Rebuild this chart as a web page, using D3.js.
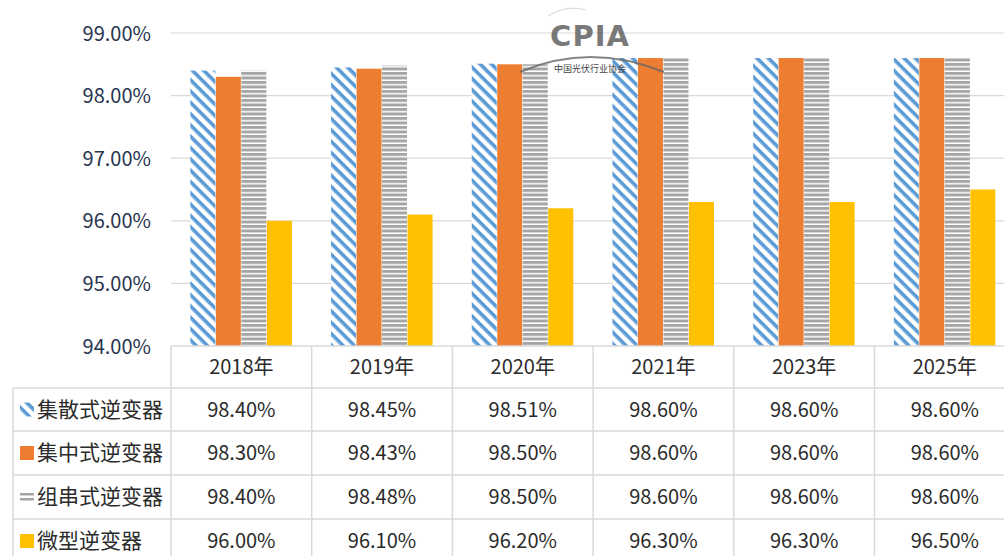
<!DOCTYPE html>
<html><head><meta charset="utf-8">
<script src="https://cdn.jsdelivr.net/npm/d3@7/dist/d3.min.js"></script>
<style>body{margin:0;background:#fff;}svg{display:block;}</style>
</head><body>
<script>
const categories = ["2018年","2019年","2020年","2021年","2023年","2025年"];
const seriesNames = ["集散式逆变器","集中式逆变器","组串式逆变器","微型逆变器"];
const s1 = [98.40,98.45,98.51,98.60,98.60,98.60];
const s2 = [98.30,98.43,98.50,98.60,98.60,98.60];
const s3 = [98.40,98.48,98.50,98.60,98.60,98.60];
const s4 = [96.00,96.10,96.20,96.30,96.30,96.50];
const yTicks = [94,95,96,97,98,99];

const series = [s1,s2,s3,s4];
const W=1004,H=556;
const svg=d3.select("body").append("svg").attr("width",W).attr("height",H);
const font="'Noto Sans CJK SC','Noto Sans',sans-serif";
const textColor="#2b2b2b";
const fs=20;
const defs=svg.append("defs");
// blue diagonal hatch ("\" direction)
const p1=defs.append("pattern").attr("id","hatchBlue").attr("patternUnits","userSpaceOnUse")
  .attr("width",8).attr("height",8).attr("patternTransform","rotate(45)");
p1.append("rect").attr("width",8).attr("height",8).attr("fill","#fff");
p1.append("rect").attr("x",0).attr("y",0).attr("width",8).attr("height",3.6).attr("fill","#5B9BD5");
// gray horizontal stripes
const p3=defs.append("pattern").attr("id","hatchGray").attr("patternUnits","userSpaceOnUse")
  .attr("width",4.5).attr("height",4.5);
p3.append("rect").attr("width",4.5).attr("height",4.5).attr("fill","#fff");
p3.append("rect").attr("y",0).attr("width",4.5).attr("height",3).attr("fill","#a5a5a5");
const fills=["url(#hatchBlue)","#ED7D31","url(#hatchGray)","#FFC000"];

const x0=171, colW=140.7;
const x=d3.scaleBand().domain(categories).range([x0,x0+colW*6]).paddingInner(0).paddingOuter(0);
const y=d3.scaleLinear().domain([94,99]).range([346,33]);
const xs=d3.scaleBand().domain(d3.range(4)).range([0,102]);
const gOff=(colW-102)/2;

// gridlines
svg.append("g").selectAll("line").data(yTicks.slice(1)).join("line")
  .attr("x1",x0).attr("x2",W).attr("y1",d=>y(d)).attr("y2",d=>y(d))
  .attr("stroke","#d9d9d9").attr("stroke-width",1.2);

// y labels
const yAxis=d3.axisLeft(y).tickValues(yTicks).tickSize(0).tickPadding(0).tickFormat(d=>d.toFixed(2)+"%");
const ya=svg.append("g").attr("transform","translate(151,0)").call(yAxis);
ya.select(".domain").remove();
ya.selectAll("text").attr("font-family",font).attr("font-size",fs).attr("fill","#283450").attr("dy","0.35em");

// bars
const bars=svg.append("g");
series.forEach((s,si)=>{
  bars.append("g").selectAll("rect").data(s).join("rect")
    .attr("x",(d,i)=>x(categories[i])+gOff+xs(si))
    .attr("width",xs.bandwidth()-0.5)
    .attr("y",d=>y(d)).attr("height",d=>y(94)-y(d))
    .attr("fill",fills[si]);
});

// watermark
const wm=svg.append("g");
wm.append("text").attr("x",590).attr("y",46).attr("text-anchor","middle").attr("font-family","'DejaVu Sans',sans-serif")
  .attr("font-weight","bold").attr("font-size",29).attr("fill","#6b6b6b").attr("opacity",0.9).attr("letter-spacing",1).text("CPIA");
wm.append("path").attr("d","M548,16 Q567,4 586,10").attr("fill","none").attr("stroke","#aaa").attr("stroke-width",1).attr("opacity",0.5);
wm.append("path").attr("d","M520,72 Q590,42 664,72").attr("fill","none").attr("stroke","#666").attr("stroke-width",2).attr("opacity",0.8);
wm.append("text").attr("x",590).attr("y",72).attr("text-anchor","middle").attr("font-family",font)
  .attr("font-size",9).attr("fill","#444").text("中国光伏行业协会");

// table
const t=svg.append("g");
const rowY=[346,388,431,475,519,563];
const lc="#d9d9d9";
t.append("line").attr("x1",x0).attr("x2",W).attr("y1",rowY[0]).attr("y2",rowY[0]).attr("stroke",lc).attr("stroke-width",1.5);
rowY.slice(1,5).forEach(v=>t.append("line").attr("x1",13).attr("x2",W).attr("y1",v).attr("y2",v).attr("stroke",lc).attr("stroke-width",1.5));
t.append("line").attr("x1",13).attr("x2",13).attr("y1",rowY[1]).attr("y2",H).attr("stroke",lc).attr("stroke-width",1.5);
d3.range(7).forEach(i=>{const xv=x0+i*colW; if(xv<W) t.append("line").attr("x1",xv).attr("x2",xv).attr("y1",rowY[0]).attr("y2",H).attr("stroke",lc).attr("stroke-width",1.5);});
t.selectAll(".hdr").data(categories).join("text").attr("class","hdr")
  .attr("x",d=>x(d)+x.bandwidth()/2).attr("y",(rowY[0]+rowY[1])/2).attr("dy","0.35em")
  .attr("text-anchor","middle").attr("font-family",font).attr("font-size",fs).attr("fill",textColor).text(d=>d);
series.forEach((s,si)=>{
  const cy=(rowY[si+1]+rowY[si+2])/2;
  t.append("g").selectAll("text").data(s).join("text")
    .attr("x",(d,i)=>x(categories[i])+x.bandwidth()/2).attr("y",cy).attr("dy","0.35em")
    .attr("text-anchor","middle").attr("font-family",font).attr("font-size",fs).attr("fill",textColor)
    .text(d=>d.toFixed(2)+"%");
  t.append("text").attr("x",37).attr("y",cy).attr("dy","0.35em").attr("font-family",font).attr("font-size",21)
    .attr("fill",textColor).text(seriesNames[si]);
  const kx=20, ky=cy-7;
  if(si===2){
    t.append("rect").attr("x",kx).attr("y",cy-4).attr("width",14).attr("height",2.5).attr("fill","#a5a5a5");
    t.append("rect").attr("x",kx).attr("y",cy+1).attr("width",14).attr("height",2.5).attr("fill","#a5a5a5");
  } else if(si===0){
    t.append("rect").attr("x",kx).attr("y",ky).attr("width",14).attr("height",14).attr("fill","url(#hatchBlue)");
  } else {
    t.append("rect").attr("x",kx).attr("y",ky).attr("width",14).attr("height",14).attr("fill",fills[si]);
  }
});
</script>
</body></html>
